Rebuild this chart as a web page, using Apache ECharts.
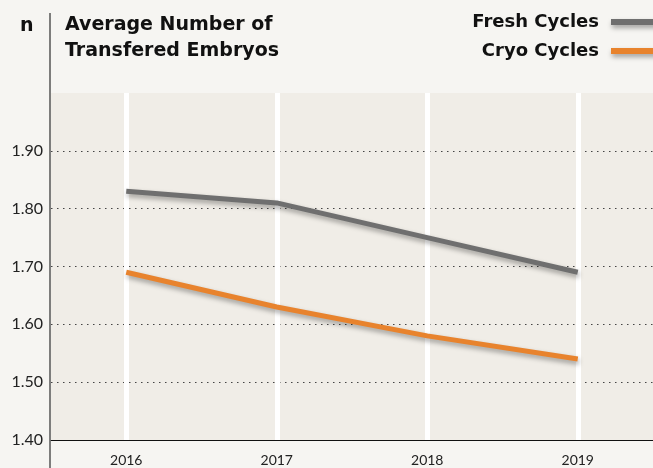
<!DOCTYPE html>
<html><head><meta charset="utf-8">
<script src="https://cdn.jsdelivr.net/npm/echarts@6/dist/echarts.min.js"></script>
<style>html,body{margin:0;padding:0;background:#f6f5f2;}#c{width:653px;height:468px;}</style>
</head><body><div id="c"></div>
<script>
const categories = ['2016', '2017', '2018', '2019'];
const freshCycles = [1.83, 1.81, 1.75, 1.69];
const cryoCycles = [1.69, 1.63, 1.58, 1.54];
const yTicks = ['1.40', '1.50', '1.60', '1.70', '1.80', '1.90'];
const titleText = 'Average Number of\nTransfered Embryos';
const seriesNames = ['Fresh Cycles', 'Cryo Cycles'];

const FONT = 'Lato, "Open Sans", sans-serif';
const HEAVY = '"DejaVu Sans", sans-serif';
const chart = echarts.init(document.getElementById('c'));
const shadow = { shadowColor: 'rgba(0,0,0,0.35)', shadowBlur: 5, shadowOffsetY: 3, shadowOffsetX: 1 };
chart.setOption({
  backgroundColor: '#f6f5f2',
  animation: false,
  title: {
    text: titleText, left: 60, top: 7,
    textStyle: { fontFamily: HEAVY, fontSize: 19, fontWeight: 'bold', color: '#111', lineHeight: 26 }
  },
  legend: {
    data: seriesNames, orient: 'vertical', align: 'right', right: -5, top: 13, padding: 0,
    icon: 'rect', itemWidth: 47, itemHeight: 6, itemGap: 11,
    textStyle: { fontFamily: HEAVY, fontSize: 18, fontWeight: 'bold', color: '#111', padding: [0, 7, 0, 0] },
    itemStyle: shadow
  },
  grid: { left: 51, width: 604, top: 93, bottom: 28, show: true, backgroundColor: '#f0ede7', borderWidth: 0 },
  xAxis: {
    type: 'category', data: categories, boundaryGap: true,
    axisLine: { show: true, lineStyle: { color: '#111', width: 1 } },
    axisTick: { show: false },
    axisLabel: { fontFamily: FONT, fontSize: 14, color: '#222', margin: 13 },
    splitLine: { show: false }
  },
  yAxis: {
    type: 'value', min: 1.4, max: 2.0, interval: 0.1,
    axisLine: { show: false }, axisTick: { show: false },
    axisLabel: {
      fontFamily: FONT, fontSize: 16, color: '#222', margin: 8,
      formatter: v => { const s = v.toFixed(2); return yTicks.includes(s) ? s : ''; }
    },
    splitLine: { show: true, showMaxLine: false, showMinLine: false, lineStyle: { color: '#444', width: 1.2, type: [1.5, 4.5] } }
  },
  graphic: [
    { type: 'line', z: 50, shape: { x1: 50, y1: 13, x2: 50, y2: 468 }, style: { stroke: '#555', lineWidth: 1.5 } },
    { type: 'text', left: 20, top: 17, style: { text: 'n', fontFamily: HEAVY, fontSize: 19, fontWeight: 'bold', fill: '#111' } }
  ],
  series: [
    {
      type: 'line', name: '_grid', data: [], silent: true, z: 1,
      markLine: {
        silent: true, symbol: 'none', label: { show: false },
        lineStyle: { color: '#ffffff', width: 5, type: 'solid' },
        data: categories.map(c => ({ xAxis: c }))
      }
    },
    {
      type: 'line', name: seriesNames[0], data: freshCycles, showSymbol: false, z: 5,
      color: '#6f6f6f', lineStyle: Object.assign({ color: '#6f6f6f', width: 5 }, shadow)
    },
    {
      type: 'line', name: seriesNames[1], data: cryoCycles, showSymbol: false, z: 5,
      color: '#e8832d', lineStyle: Object.assign({ color: '#e8832d', width: 5 }, shadow)
    }
  ]
});
</script></body></html>
